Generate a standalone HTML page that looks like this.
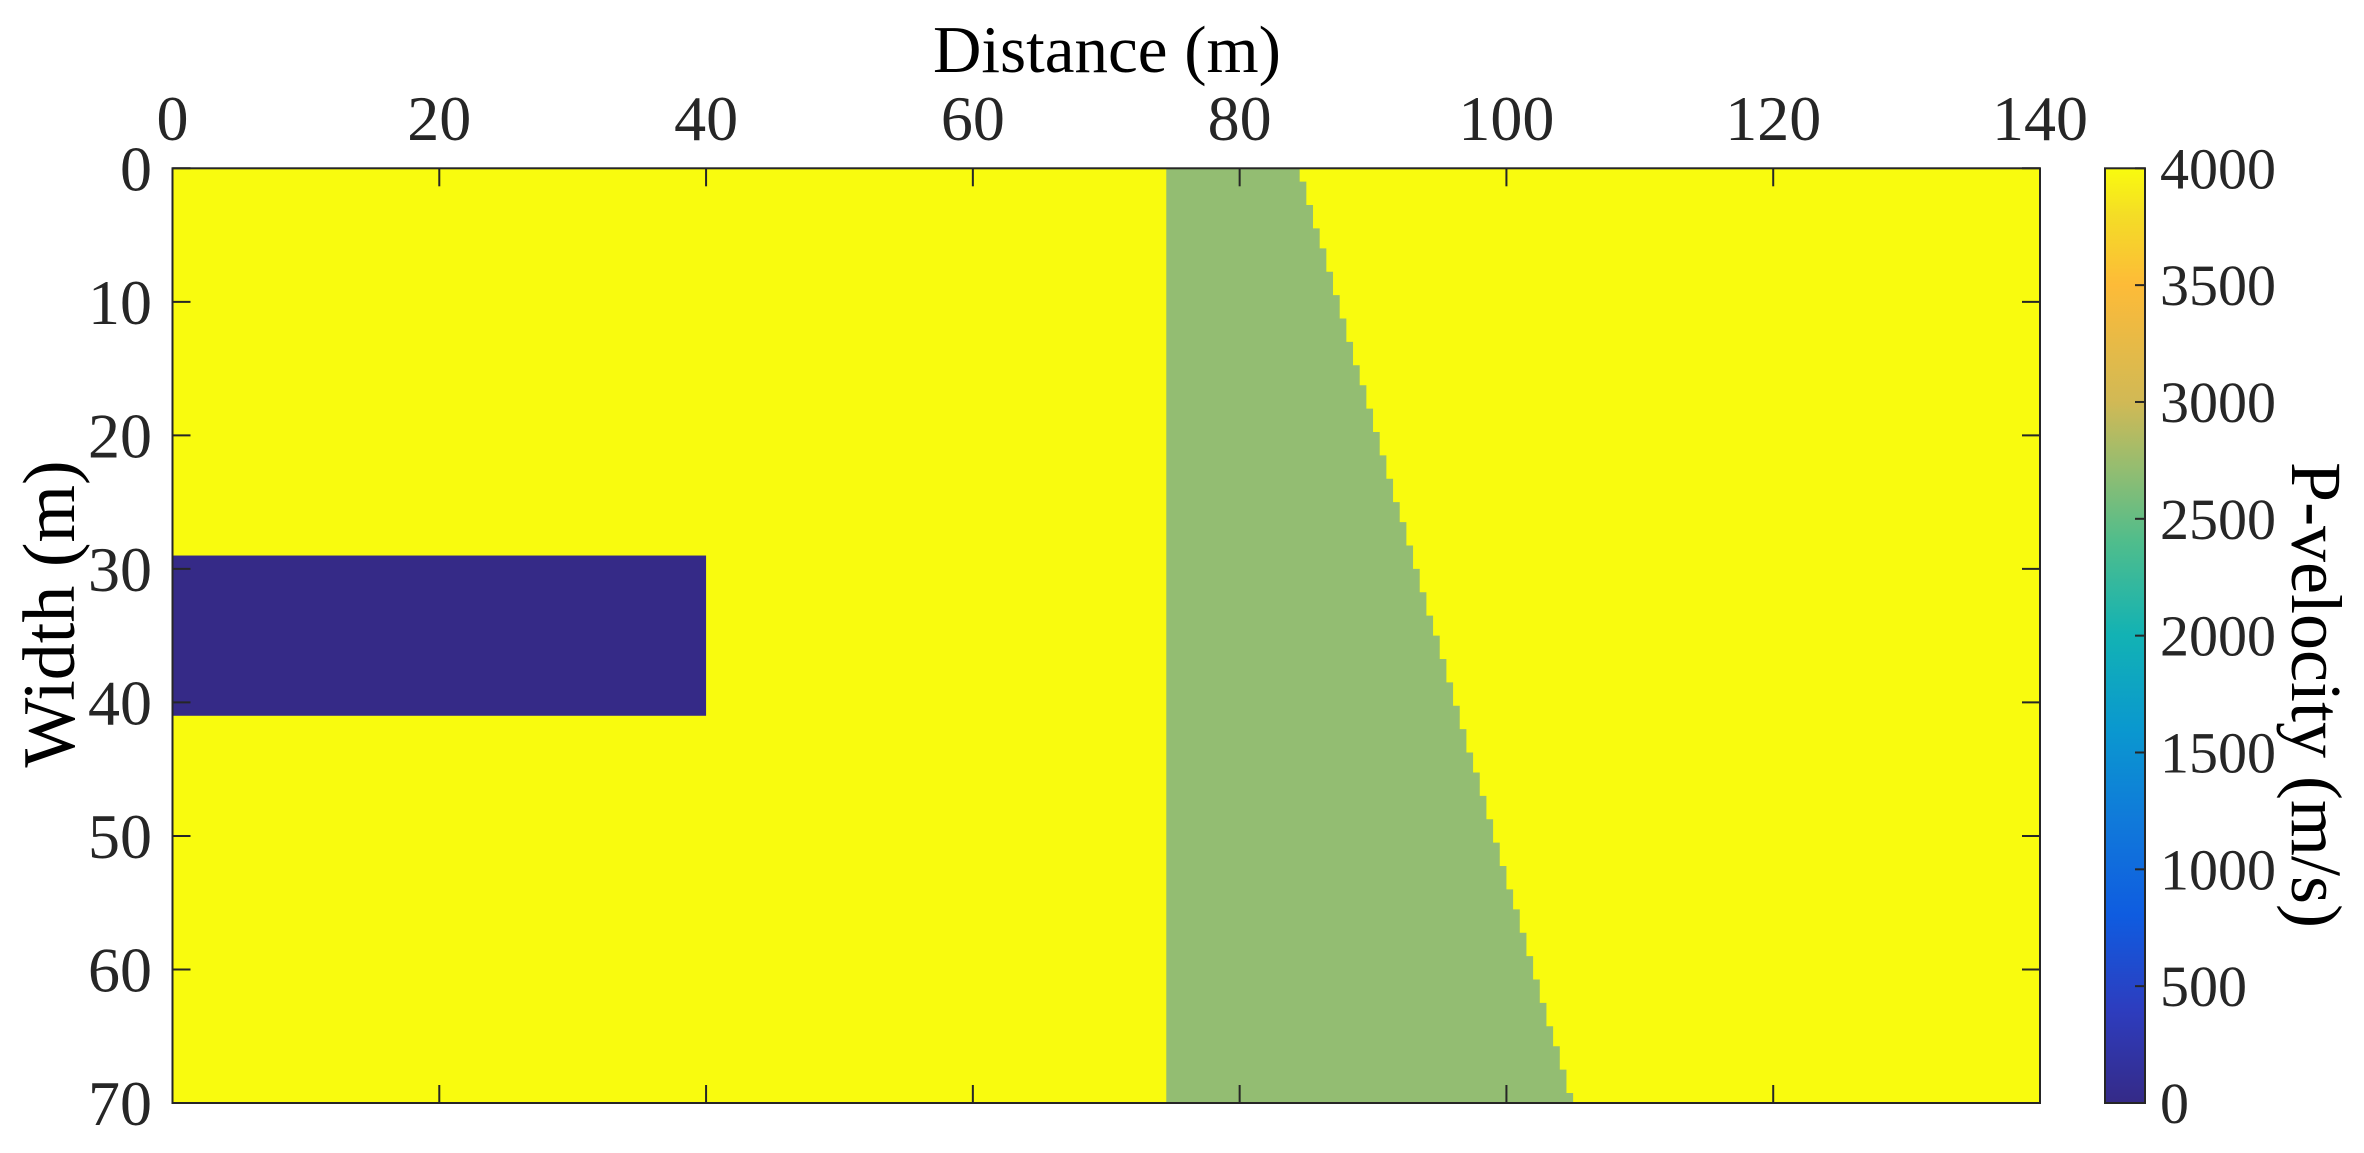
<!DOCTYPE html>
<html><head><meta charset="utf-8"><style>
html,body{margin:0;padding:0;background:#fff;}
svg{display:block;font-family:"Liberation Serif",serif;}
</style></head><body>
<svg width="2364" height="1153" viewBox="0 0 2364 1153">
<defs>
<linearGradient id="parula" x1="0" y1="1" x2="0" y2="0">
<stop offset="0" stop-color="#352a87"/><stop offset="0.1" stop-color="#2d3dbf"/>
<stop offset="0.2" stop-color="#0f5ce0"/><stop offset="0.3" stop-color="#1079da"/>
<stop offset="0.4" stop-color="#0a98cf"/><stop offset="0.5" stop-color="#12b2b4"/>
<stop offset="0.6" stop-color="#4fbd8c"/><stop offset="0.68" stop-color="#95bd70"/>
<stop offset="0.75" stop-color="#d1b955"/><stop offset="0.875" stop-color="#fdbb38"/>
<stop offset="0.95" stop-color="#f4dd26"/><stop offset="1" stop-color="#f9fb0e"/>
</linearGradient>
</defs>
<g id="plot"></g>
<g id="axes"></g>
<text x="1107" y="72" font-size="67" text-anchor="middle" fill="#000">Distance (m)</text>
<text transform="translate(74,614) rotate(-90)" font-size="74" text-anchor="middle" fill="#000">Width (m)</text>
<text transform="translate(2292,695) rotate(90)" font-size="72" text-anchor="middle" fill="#000">P-velocity (m/s)</text>
</svg>
<script>
const xTicks=[0,20,40,60,80,100,120,140];
const yTicks=[0,10,20,30,40,50,60,70];
const cbTicks=[0,500,1000,1500,2000,2500,3000,3500,4000];
const bgVelocity=4000;
const blockX=[0,40];const blockY=[29,41];const blockVelocity=0;
const wedgeLeft=74.5;const wedgeTopRight=84.5;const wedgeBottomRight=105;const wedgeVelocity=2700;
const L=172.5,R=2040,T=168.3,B=1103;
const sx=v=>L+(v-0)/(140-0)*(R-L);
const sy=v=>T+(v-0)/(70-0)*(B-T);
const cy=v=>B-(v/4000)*(B-T);
const NS='http://www.w3.org/2000/svg';
function mk(tag,at,parent){const e=document.createElementNS(NS,tag);for(const k in at)e.setAttribute(k,at[k]);parent.appendChild(e);return e;}
function vcol(v){if(v>=3500)return'#f9fb0e';if(v>=2000)return'#93bd72';return'#352a87';}
const plot=document.getElementById('plot'),axes=document.getElementById('axes');
let r=mk('rect',{x:sx(0),y:sy(0),width:sx(140)-sx(0),height:sy(70)-sy(0),fill:vcol(bgVelocity)},plot);


let pts=[[sx(wedgeLeft),sy(0)]];
const dz=0.25;let prevX=null;
for(let z=0;z<70;z+=dz){
  let xb=wedgeTopRight+(wedgeBottomRight-wedgeTopRight)*(z/70);
  xb=Math.round(xb*2)/2;
  if(prevX===null){pts.push([sx(xb),sy(z)]);}
  else if(xb!==prevX){pts.push([sx(prevX),sy(z)]);pts.push([sx(xb),sy(z)]);}
  prevX=xb;
}
pts.push([sx(prevX),sy(70)]);pts.push([sx(wedgeLeft),sy(70)]);
let w=mk('polygon',{points:pts.map(p=>p.join(',')).join(' '),fill:vcol(wedgeVelocity)},plot);


let b=mk('rect',{x:sx(blockX[0]),y:sy(blockY[0]),width:sx(blockX[1])-sx(blockX[0]),height:sy(blockY[1])-sy(blockY[0]),fill:vcol(blockVelocity)},plot);


let fr=mk('rect',{x:L,y:T,width:R-L,height:B-T,fill:'none',stroke:'#262626','stroke-width':2},axes);


xTicks.forEach(v=>{
  const x=sx(v);
  mk('line',{x1:x,y1:T,x2:x,y2:T+18,stroke:'#262626','stroke-width':2},axes);
  mk('line',{x1:x,y1:B,x2:x,y2:B-18,stroke:'#262626','stroke-width':2},axes);
  const t=mk('text',{x:x,y:140,'font-size':64,'text-anchor':'middle',fill:'#262626'},axes);
  t.textContent=v;
  
  
});
yTicks.forEach(v=>{
  const y=sy(v);
  mk('line',{x1:L,y1:y,x2:L+18,y2:y,stroke:'#262626','stroke-width':2},axes);
  mk('line',{x1:R,y1:y,x2:R-18,y2:y,stroke:'#262626','stroke-width':2},axes);
  const t=mk('text',{x:152,y:y+22,'font-size':64,'text-anchor':'end',fill:'#262626'},axes);
  t.textContent=v;
  
  
});
let cb=mk('rect',{x:2105,y:T,width:40,height:B-T,fill:'url(#parula)',stroke:'#262626','stroke-width':2},axes);


cbTicks.forEach(v=>{
  const y=cy(v);
  mk('line',{x1:2145,y1:y,x2:2135,y2:y,stroke:'#262626','stroke-width':2},axes);
  const t=mk('text',{x:2160,y:y+20,'font-size':58,fill:'#262626'},axes);
  t.textContent=v;
  
  
});
</script>
</body></html>
